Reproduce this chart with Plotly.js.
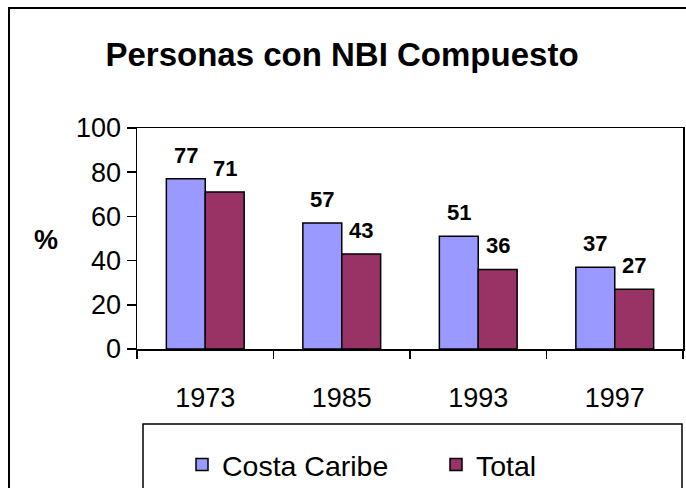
<!DOCTYPE html>
<html>
<head>
<meta charset="utf-8">
<script src="https://cdn.plot.ly/plotly-3.0.1.min.js"></script>
<style>
  html, body { margin: 0; padding: 0; background: #fff; }
  #chart { width: 686px; height: 488px; }
</style>
</head>
<body>
<div id="chart"></div>
<script>
const years = ['1973', '1985', '1993', '1997'];
const costaCaribe = [77, 57, 51, 37];
const total = [71, 43, 36, 27];
const seriesNames = ['Costa Caribe', 'Total'];
const chartTitle = 'Personas con NBI Compuesto';
const yTitle = '%';

const FONT = 'Liberation Sans, Arial, sans-serif';
const colors = ['#9999FF', '#993366'];
const legendIds = ['legend', 'legend2'];

const traces = [costaCaribe, total].map((vals, i) => ({
  type: 'bar',
  name: seriesNames[i],
  x: years,
  y: vals,
  legend: legendIds[i],
  marker: { color: colors[i], line: { color: '#000', width: 1.5 } },
  hoverinfo: 'skip'
}));

const annotations = [];
[costaCaribe, total].forEach((vals, i) => {
  vals.forEach((v, j) => {
    annotations.push({
      x: j, y: v, xref: 'x', yref: 'y',
      text: String(v), showarrow: false,
      xshift: i === 0 ? -19.5 : 19.5, yshift: 9,
      yanchor: 'bottom',
      font: { family: FONT, size: 22, color: '#000', weight: 'bold' }
    });
  });
});
annotations.push({
  xref: 'paper', yref: 'paper', x: (46 - 137) / 546, y: (349 - 240) / 221,
  text: '<b>' + yTitle + '</b>', showarrow: false, xanchor: 'center', yanchor: 'middle',
  font: { family: FONT, size: 27, color: '#000' }
});

const px = v => (v - 137) / 546;
const py = v => (349 - v) / 221;

const legendStyle = (xPix) => ({
  orientation: 'h', x: px(xPix), xanchor: 'left', y: py(465), yanchor: 'middle',
  font: { family: FONT, size: 28.5, color: '#000' },
  bgcolor: 'rgba(0,0,0,0)', borderwidth: 0
});

const layout = {
  width: 686, height: 488,
  margin: { l: 137, r: 3, t: 128, b: 139, autoexpand: false },
  paper_bgcolor: '#fff', plot_bgcolor: '#fff',
  font: { family: FONT, color: '#000' },
  title: {
    text: '<b>' + chartTitle + '</b>',
    x: 342 / 686, xref: 'container', xanchor: 'center',
    y: 1 - 54 / 488, yref: 'container', yanchor: 'middle',
    font: { family: FONT, size: 33, color: '#000' }
  },
  barmode: 'group', bargap: 0.43, bargroupgap: 0,
  xaxis: {
    type: 'category', range: [-0.5, years.length - 0.5], autorange: false,
    showgrid: false, zeroline: false,
    showline: true, mirror: true, linecolor: '#000', linewidth: 1.5,
    ticks: 'outside', tickson: 'boundaries', ticklen: 8, tickcolor: '#000', tickwidth: 1.5,
    ticklabelstandoff: 24, tickangle: 0,
    tickfont: { family: FONT, size: 27, color: '#000' }
  },
  yaxis: {
    range: [0, 100], autorange: false, dtick: 20, tick0: 0, showgrid: false, zeroline: false,
    showline: true, mirror: true, linecolor: '#000', linewidth: 1.5,
    ticks: 'outside', ticklen: 9, tickcolor: '#000', tickwidth: 1.5,
    tickfont: { family: FONT, size: 27, color: '#000' }
  },
  showlegend: true,
  legend: legendStyle(182),
  legend2: legendStyle(436),
  annotations: annotations,
  shapes: [
    { type: 'rect', xref: 'paper', yref: 'paper', x0: px(9), x1: px(700), y0: py(520), y1: py(8),
      line: { color: '#000', width: 2 }, fillcolor: 'rgba(0,0,0,0)', layer: 'below' },
    { type: 'rect', xref: 'paper', yref: 'paper', x0: px(143), x1: px(682), y0: py(520), y1: py(424),
      line: { color: '#000', width: 1.5 }, fillcolor: 'rgba(0,0,0,0)', layer: 'below' }
  ]
};

Plotly.newPlot('chart', traces, layout, { displayModeBar: false, staticPlot: true });
</script>
</body>
</html>
